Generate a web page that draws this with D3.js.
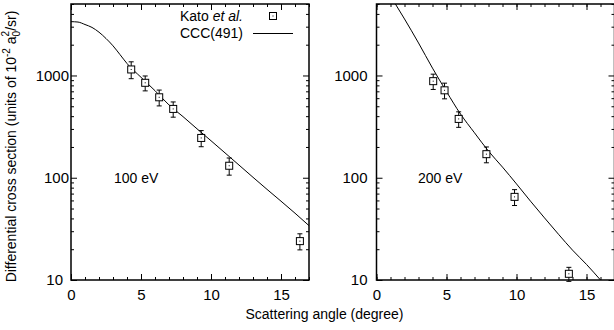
<!DOCTYPE html>
<html>
<head>
<meta charset="utf-8">
<script src="https://cdn.jsdelivr.net/npm/d3@7"></script>
<style>
  body { margin: 0; background: #fff; }
  svg { display: block; font-family: "Liberation Sans", Arial, Helvetica, sans-serif; }
</style>
</head>
<body>
<div id="chart"></div>
<script>
// axis ticks
const xMajor = [0, 5, 10, 15];
const xMinor = d3.range(0, 18);
const yMajor = [10, 100, 1000];
const yMinor = [20, 30, 40, 50, 60, 70, 80, 90, 200, 300, 400, 500, 600, 700, 800, 900, 2000, 3000, 4000, 5000];

// 100 eV: Kato et al. measurements
const angles100 = [4.3, 5.3, 6.3, 7.3, 9.3, 11.3, 16.35];
const kato100 = [1145, 848, 612, 471, 245, 131, 24];
const katoErr100 = [215, 141, 108, 80, 44, 25, 4.3];
// 100 eV: CCC(491) curve
const cccAngles100 = [0, 0.5, 1, 1.5, 2, 2.5, 3, 3.5, 4, 5, 6, 7, 8, 9, 10, 11, 12, 13, 14, 15, 16, 17];
const ccc100 = [3360, 3330, 3150, 2950, 2650, 2300, 1950, 1600, 1310, 960, 710, 515, 396, 301, 230, 175, 133, 101, 77, 59, 45, 34];

// 200 eV: Kato et al. measurements
const angles200 = [4.05, 4.86, 5.87, 7.85, 9.86, 13.74];
const kato200 = [880, 716, 376, 170, 65, 11.5];
const katoErr200 = [150, 125, 65, 30, 11.5, 1.8];
// 200 eV: CCC(491) curve
const cccAngles200 = [1.35, 2, 3, 4, 5, 6, 7, 8, 9, 10, 11, 12, 13, 14, 15, 16];
const ccc200 = [5000, 3570, 2080, 1180, 695, 420, 275, 182, 127, 87, 59, 40.5, 28, 19.6, 14.2, 10];

const W = 614, H = 330;
const plotTop = 4, plotBottom = 280;

const svg = d3.select("#chart").append("svg")
    .attr("width", W)
    .attr("height", H);

const panels = [
  { left: 71, right: 309, angles: angles100, kato: kato100, err: katoErr100,
    cccX: cccAngles100, ccc: ccc100, label: "100 eV", labelX: 114, legend: true, tickGap: 2, lowShift: -6 },
  { left: 376.5, right: 614.5, angles: angles200, kato: kato200, err: katoErr200,
    cccX: cccAngles200, ccc: ccc200, label: "200 eV", labelX: 418, legend: false, tickGap: 9, lowShift: 0 }
];

panels.forEach((p, pi) => {
  const x = d3.scaleLinear().domain([0, 17]).range([p.left, p.right]);
  const y = d3.scaleLog().domain([10, 5000]).range([plotBottom, plotTop]);
  const g = svg.append("g").attr("class", "panel p" + pi);

  const clipId = "clip" + pi;
  g.append("clipPath").attr("id", clipId)
    .append("rect")
      .attr("x", p.left).attr("y", plotTop)
      .attr("width", p.right - p.left).attr("height", plotBottom - plotTop);

  // ticks (gnuplot style, pointing inward), minor first
  function addAxis(axis, tr) {
    const a = g.append("g").attr("transform", tr).call(axis);
    a.select(".domain").remove();
    a.selectAll("line").attr("stroke", "#000").attr("stroke-width", 1);
    return a;
  }
  addAxis(d3.axisBottom(x).tickValues(xMinor).tickSize(-3).tickFormat(""), `translate(0,${plotBottom})`);
  addAxis(d3.axisTop(x).tickValues(xMinor).tickSize(-3).tickFormat(""), `translate(0,${plotTop})`);
  addAxis(d3.axisLeft(y).tickValues(yMinor).tickSize(-3).tickFormat(""), `translate(${p.left},0)`);
  addAxis(d3.axisRight(y).tickValues(yMinor).tickSize(-3).tickFormat(""), `translate(${p.right},0)`);

  const xb = addAxis(d3.axisBottom(x).tickValues(xMajor).tickSize(-6).tickPadding(9).tickFormat(d3.format("d")),
    `translate(0,${plotBottom})`);
  addAxis(d3.axisTop(x).tickValues(xMajor).tickSize(-6).tickFormat(""), `translate(0,${plotTop})`);
  const yl = addAxis(d3.axisLeft(y).tickValues(yMajor).tickSize(-6).tickPadding(p.tickGap).tickFormat(d3.format("d")),
    `translate(${p.left},0)`);
  addAxis(d3.axisRight(y).tickValues(yMajor).tickSize(-6).tickFormat(""), `translate(${p.right},0)`);

  [xb, yl].forEach(a => a.selectAll("text")
    .attr("font-size", 15)
    .attr("font-family", "Liberation Sans, Arial, sans-serif")
    .attr("fill", "#000"));
  // the lowest label sits a little further out in the original
  yl.selectAll("text").filter(d => d === 10).attr("dx", p.lowShift);

  // frame
  g.append("rect")
    .attr("x", p.left).attr("y", plotTop)
    .attr("width", p.right - p.left).attr("height", plotBottom - plotTop)
    .attr("fill", "none").attr("stroke", "#000").attr("stroke-width", 1.5);

  // CCC curve
  const line = d3.line()
    .x((d, i) => x(p.cccX[i]))
    .y(d => y(d))
    .curve(d3.curveMonotoneX);
  g.append("path")
    .attr("clip-path", `url(#${clipId})`)
    .attr("d", line(p.ccc))
    .attr("fill", "none")
    .attr("stroke", "#000")
    .attr("stroke-width", 1);

  // Kato et al. points with error bars
  const pts = g.append("g").selectAll("g")
    .data(p.kato)
    .join("g")
      .attr("transform", (d, i) => `translate(${x(p.angles[i])},0)`);
  pts.append("line")
    .attr("y1", (d, i) => y(d + p.err[i]))
    .attr("y2", (d, i) => y(d - p.err[i]))
    .attr("stroke", "#000");
  pts.selectAll(".cap")
    .data((d, i) => [d + p.err[i], d - p.err[i]])
    .join("line")
      .attr("class", "cap")
      .attr("x1", -2.5).attr("x2", 2.5)
      .attr("y1", d => y(d)).attr("y2", d => y(d))
      .attr("stroke", "#000");
  pts.append("rect")
    .attr("x", -3.5).attr("y", d => y(d) - 3.5)
    .attr("width", 7).attr("height", 7)
    .attr("fill", "#fff").attr("stroke", "#000").attr("stroke-width", 1);
  pts.append("rect")
    .attr("x", -0.5).attr("y", d => y(d) - 0.5)
    .attr("width", 1).attr("height", 1)
    .attr("fill", "#000");

  // energy label
  g.append("text")
    .attr("x", p.labelX).attr("y", y(100) + 5)
    .attr("font-size", 14)
    .text(p.label);

  if (p.legend) {
    const lg = g.append("g");
    const t1 = lg.append("text")
      .attr("x", 243).attr("y", 21)
      .attr("text-anchor", "end")
      .attr("font-size", 14);
    t1.append("tspan").text("Kato ");
    t1.append("tspan").attr("font-style", "italic").text("et al.");
    lg.append("rect")
      .attr("x", 269.5).attr("y", 12.5).attr("width", 7).attr("height", 7)
      .attr("fill", "#fff").attr("stroke", "#000");
    lg.append("rect")
      .attr("x", 272.5).attr("y", 15.5).attr("width", 1).attr("height", 1)
      .attr("fill", "#000");
    lg.append("text")
      .attr("x", 243).attr("y", 38)
      .attr("text-anchor", "end")
      .attr("font-size", 14)
      .text("CCC(491)");
    lg.append("line")
      .attr("x1", 253).attr("x2", 293)
      .attr("y1", 33.5).attr("y2", 33.5)
      .attr("stroke", "#000");
  }
});

// shared axis titles
svg.append("text")
  .attr("x", 324.5).attr("y", 319)
  .attr("text-anchor", "middle")
  .attr("font-size", 14)
  .text("Scattering angle (degree)");

const yt = svg.append("text")
  .attr("transform", "translate(16,146.5) rotate(-90)")
  .attr("text-anchor", "middle")
  .attr("font-size", 14);
yt.append("tspan").text("Differential cross section (units of 10");
yt.append("tspan").attr("font-size", 10).attr("dy", -6).text("-2");
yt.append("tspan").attr("dy", 6).text(" a");
yt.append("tspan").attr("font-size", 10).attr("dy", 4).text("0");
yt.append("tspan").attr("font-size", 10).attr("dy", -11).attr("dx", -5.6).text("2");
yt.append("tspan").attr("dy", 7).text("/sr)");
</script>
</body>
</html>
